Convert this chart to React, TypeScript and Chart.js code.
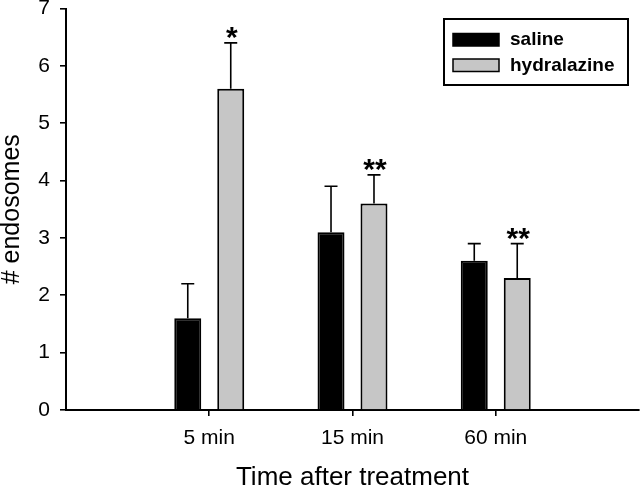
import React, { useEffect, useRef } from 'react';
import { Chart, registerables } from 'chart.js';

Chart.register(...registerables);

const categories = ['5 min', '15 min', '60 min'];
const seriesNames = ['saline', 'hydralazine'];
const salineValues = [1.6, 3.1, 2.6];
const salineErrors = [0.6, 0.8, 0.3];
const hydralazineValues = [5.6, 3.6, 2.3];
const hydralazineErrors = [0.8, 0.5, 0.6];
const salineMarks = ['', '', ''];
const hydralazineMarks = ['*', '**', '**'];
const yMin = 0;
const yMax = 7;
const yStep = 1;

const FONT = "'Liberation Sans', Arial, Helvetica, sans-serif";
const GRAY = '#c6c6c6';

const labels = ['', ...categories, ''];
const pad = (arr: any[]) => [null, ...arr, null];
const errorsBySeries = [pad(salineErrors), pad(hydralazineErrors)];
const marksBySeries = [pad(salineMarks), pad(hydralazineMarks)];

const errorBarPlugin = {
  id: 'errorBars',
  afterDatasetsDraw(chart: any) {
    const ctx = chart.ctx;
    const yScale = chart.scales.y;
    ctx.save();
    chart.data.datasets.forEach((ds: any, di: number) => {
      const meta = chart.getDatasetMeta(di);
      meta.data.forEach((el: any, i: number) => {
        const v = ds.data[i];
        const err = errorsBySeries[di][i];
        if (v == null || err == null) return;
        const x = el.x;
        const yTop = el.y;
        const yErr = yScale.getPixelForValue(v + err);
        ctx.strokeStyle = '#000';
        ctx.lineWidth = 1.6;
        ctx.beginPath();
        ctx.moveTo(x, yTop);
        ctx.lineTo(x, yErr);
        ctx.moveTo(x - 6.5, yErr);
        ctx.lineTo(x + 6.5, yErr);
        ctx.stroke();
        const mark = marksBySeries[di][i];
        if (mark) {
          ctx.font = `bold 30px ${FONT}`;
          ctx.fillStyle = '#000';
          ctx.textAlign = 'center';
          ctx.textBaseline = 'alphabetic';
          const m = ctx.measureText(mark);
          const desc = m.actualBoundingBoxDescent || 0;
          ctx.fillText(mark, x + 1, yErr - 4 - desc);
        }
      });
    });
    ctx.restore();
  },
};

const boxLegendPlugin = {
  id: 'boxLegend',
  afterDraw(chart: any) {
    const ctx = chart.ctx;
    const area = chart.chartArea;
    const right = area.right - 11;
    const top = area.top + 10.5;
    const w = 184;
    const h = 66;
    const left = right - w;
    ctx.save();
    ctx.strokeStyle = '#000';
    ctx.lineWidth = 2;
    ctx.strokeRect(left, top, w, h);
    const fills = ['#000', GRAY];
    seriesNames.forEach((name, i) => {
      const sy = top + 14.5 + i * 25.5;
      ctx.fillStyle = fills[i];
      ctx.fillRect(left + 9, sy, 46, 12.5);
      ctx.lineWidth = 1.5;
      ctx.strokeStyle = '#000';
      ctx.strokeRect(left + 9, sy, 46, 12.5);
      ctx.fillStyle = '#000';
      ctx.font = `bold 19px ${FONT}`;
      ctx.textAlign = 'left';
      ctx.textBaseline = 'middle';
      ctx.fillText(name, left + 66, sy + 6.5);
    });
    ctx.restore();
  },
};

export default function App() {
  const canvasRef = useRef<HTMLCanvasElement | null>(null);

  useEffect(() => {
    if (!canvasRef.current) return;
    const chart = new Chart(canvasRef.current, {
      type: 'bar',
      data: {
        labels,
        datasets: [
          {
            label: seriesNames[0],
            data: pad(salineValues),
            backgroundColor: '#000',
            borderColor: '#000',
            borderWidth: 2,
            categoryPercentage: 0.6,
            barPercentage: 0.628,
          },
          {
            label: seriesNames[1],
            data: pad(hydralazineValues),
            backgroundColor: GRAY,
            borderColor: '#000',
            borderWidth: 2,
            categoryPercentage: 0.6,
            barPercentage: 0.628,
          },
        ],
      },
      options: {
        animation: false,
        responsive: true,
        maintainAspectRatio: false,
        layout: { padding: { top: 8.5, right: 1, left: 0, bottom: 0 } },
        plugins: { legend: { display: false }, tooltip: { enabled: false } },
        scales: {
          x: {
            type: 'category',
            offset: false,
            grid: {
              display: true,
              offset: false,
              drawOnChartArea: false,
              tickLength: 6,
              lineWidth: 1.6,
              color: (c: any) =>
                c.index === 0 || c.index === labels.length - 1 ? 'rgba(0,0,0,0)' : '#000',
            },
            border: { color: '#000', width: 2 },
            ticks: {
              color: '#000',
              font: { family: FONT, size: 21 },
              padding: 10,
              autoSkip: false,
              maxRotation: 0,
            },
            title: {
              display: true,
              text: 'Time after treatment',
              color: '#000',
              font: { family: FONT, size: 26, lineHeight: 0.85 },
              padding: { top: 0, bottom: 0 },
            },
            afterFit: (s: any) => {
              s.height = 79;
              s.paddingLeft = 0;
              s.paddingRight = 0;
            },
          },
          y: {
            min: yMin,
            max: yMax,
            grid: {
              display: true,
              drawOnChartArea: false,
              tickLength: 6,
              lineWidth: 1.6,
              color: '#000',
            },
            border: { color: '#000', width: 2 },
            ticks: {
              stepSize: yStep,
              color: '#000',
              font: { family: FONT, size: 21 },
              padding: 10,
            },
            title: {
              display: true,
              text: '# endosomes',
              color: '#000',
              font: { family: FONT, size: 25, lineHeight: 1 },
              padding: { top: 0, bottom: 0 },
            },
            afterFit: (s: any) => {
              s.width = 66;
              s.paddingTop = 0;
              s.paddingBottom = 0;
            },
          },
        },
      } as any,
      plugins: [errorBarPlugin, boxLegendPlugin],
    });
    return () => chart.destroy();
  }, []);

  return (
    <div style={{ position: 'absolute', left: 0, top: 0, width: 640, height: 489, background: '#fff' }}>
      <canvas ref={canvasRef} />
    </div>
  );
}
